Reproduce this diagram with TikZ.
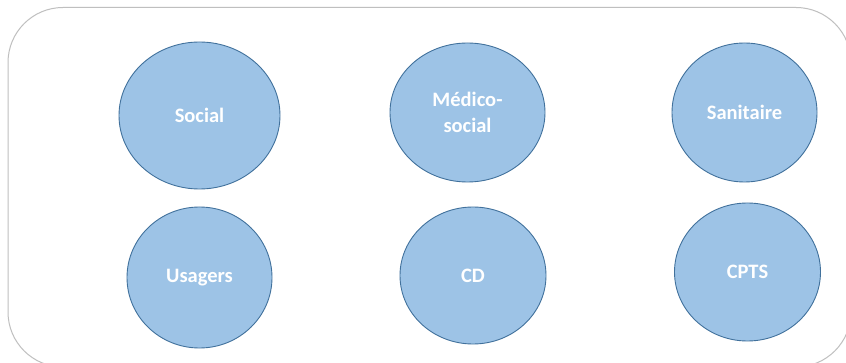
\documentclass[tikz,border=0pt]{standalone}
\usepackage{fontspec}
\setmainfont{Carlito}
\usetikzlibrary{shapes.geometric}
\definecolor{polefill}{RGB}{157,195,230}
\definecolor{poleline}{RGB}{65,113,156}
\definecolor{framegray}{RGB}{191,191,191}

\begin{document}
\begin{tikzpicture}[x=1pt, y=-1pt,
    pole/.style={ellipse, draw=poleline, fill=polefill, line width=0.9pt, inner sep=0pt,
      text=white, font=\fontsize{20.5}{26}\selectfont\bfseries, align=center}]
            \useasboundingbox (0,0) rectangle (846,363);
            \clip (0,0) rectangle (846,363);
            \fill[white] (0,0) rectangle (846,363);
            \draw[framegray, line width=1pt, rounded corners=55pt] (8,7.5) rectangle (851,367);
            \node[pole, minimum width=161pt, minimum height=147pt] (social) at (199.5,115.5) {Social};
            \node[pole, minimum width=155pt, minimum height=139pt] (medico) at (467.5,112.5) {Médico-\\social};
            \node[pole, minimum width=145pt, minimum height=139pt] (sanitaire) at (744.5,112.5) {Sanitaire};
            \node[pole, minimum width=145pt, minimum height=141pt] (usagers) at (199.5,277.5) {Usagers};
            \node[pole, minimum width=146pt, minimum height=137pt] (cd) at (473,275.5) {CD};
            \node[pole, minimum width=146pt, minimum height=138pt] (cpts) at (747.5,272) {CPTS};
      \end{tikzpicture}
\end{document}
